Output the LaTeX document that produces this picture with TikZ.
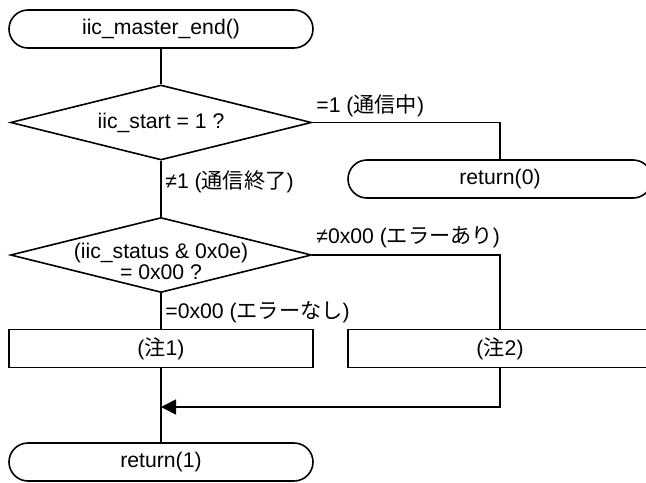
\documentclass[tikz,border=0pt]{standalone}
\usepackage{fontspec}
\setmainfont{Liberation Sans}
\newfontfamily\jp{Noto Sans CJK JP}
\usetikzlibrary{shapes.geometric,arrows.meta,positioning}
\tikzset{
  base/.style={draw, line width=0.8pt, inner sep=0pt, font=\fontsize{10.6pt}{10.5pt}\selectfont},
  term/.style={base, rectangle, rounded corners=9.5pt, minimum width=152pt, minimum height=19pt},
  procbox/.style={base, rectangle, minimum width=152pt, minimum height=19pt},
  decision/.style={base, diamond, minimum width=150.5pt, minimum height=37.5pt},
  conn/.style={line width=0.8pt},
  lbl/.style={anchor=west, inner sep=0pt, font=\fontsize{10.6pt}{12pt}\selectfont},
}
\begin{document}
\begin{tikzpicture}[x=0.5pt,y=-0.5pt]
\useasboundingbox (0,0) rectangle (646,482);
\node[term] (start) at (161,29) {iic\_master\_end()};
\node[decision] (d1) at (161,122.5) {};
\node[font=\fontsize{10.6pt}{12pt}\selectfont, inner sep=0pt] (d1t) at (161,123) {iic\_start = 1 ?};
\node[term] (ret0) at (500,179) {return(0)};
\node[decision] (d2) at (161,255) {};
\node[font=\fontsize{10.6pt}{10.5pt}\selectfont, align=center, inner sep=0pt] (d2t) at (161,261) {(iic\_status \& 0x0e)\\= 0x00 ?};
\node[procbox] (n1) at (161,348.5) {({\jp 注}1)};
\node[procbox] (n2) at (500,348.5) {({\jp 注}2)};
\node[term] (ret1) at (161,462) {return(1)};
\coordinate (m) at (161,407);

\draw[conn] (start) -- (d1);
\draw[conn] (d1.east) -| (ret0.north);
\draw[conn] (d1) -- (d2);
\draw[conn] (d2.east) -| (n2.north);
\draw[conn] (d2) -- (n1);
\draw[conn] (n1) -- (ret1);
\draw[conn, -{Triangle[length=7.5pt,width=7.5pt]}] (n2.south) |- (m);

\node[lbl] (l1) at (316,106) {=1 ({\jp 通信中})};
\node[lbl] (l2) at (165,182) {≠1 ({\jp 通信終了})};
\node[lbl] (l3) at (316,237) {≠0x00 ({\jp エラーあり})};
\node[lbl] (l4) at (165,312) {=0x00 ({\jp エラーなし})};
\end{tikzpicture}
\end{document}
